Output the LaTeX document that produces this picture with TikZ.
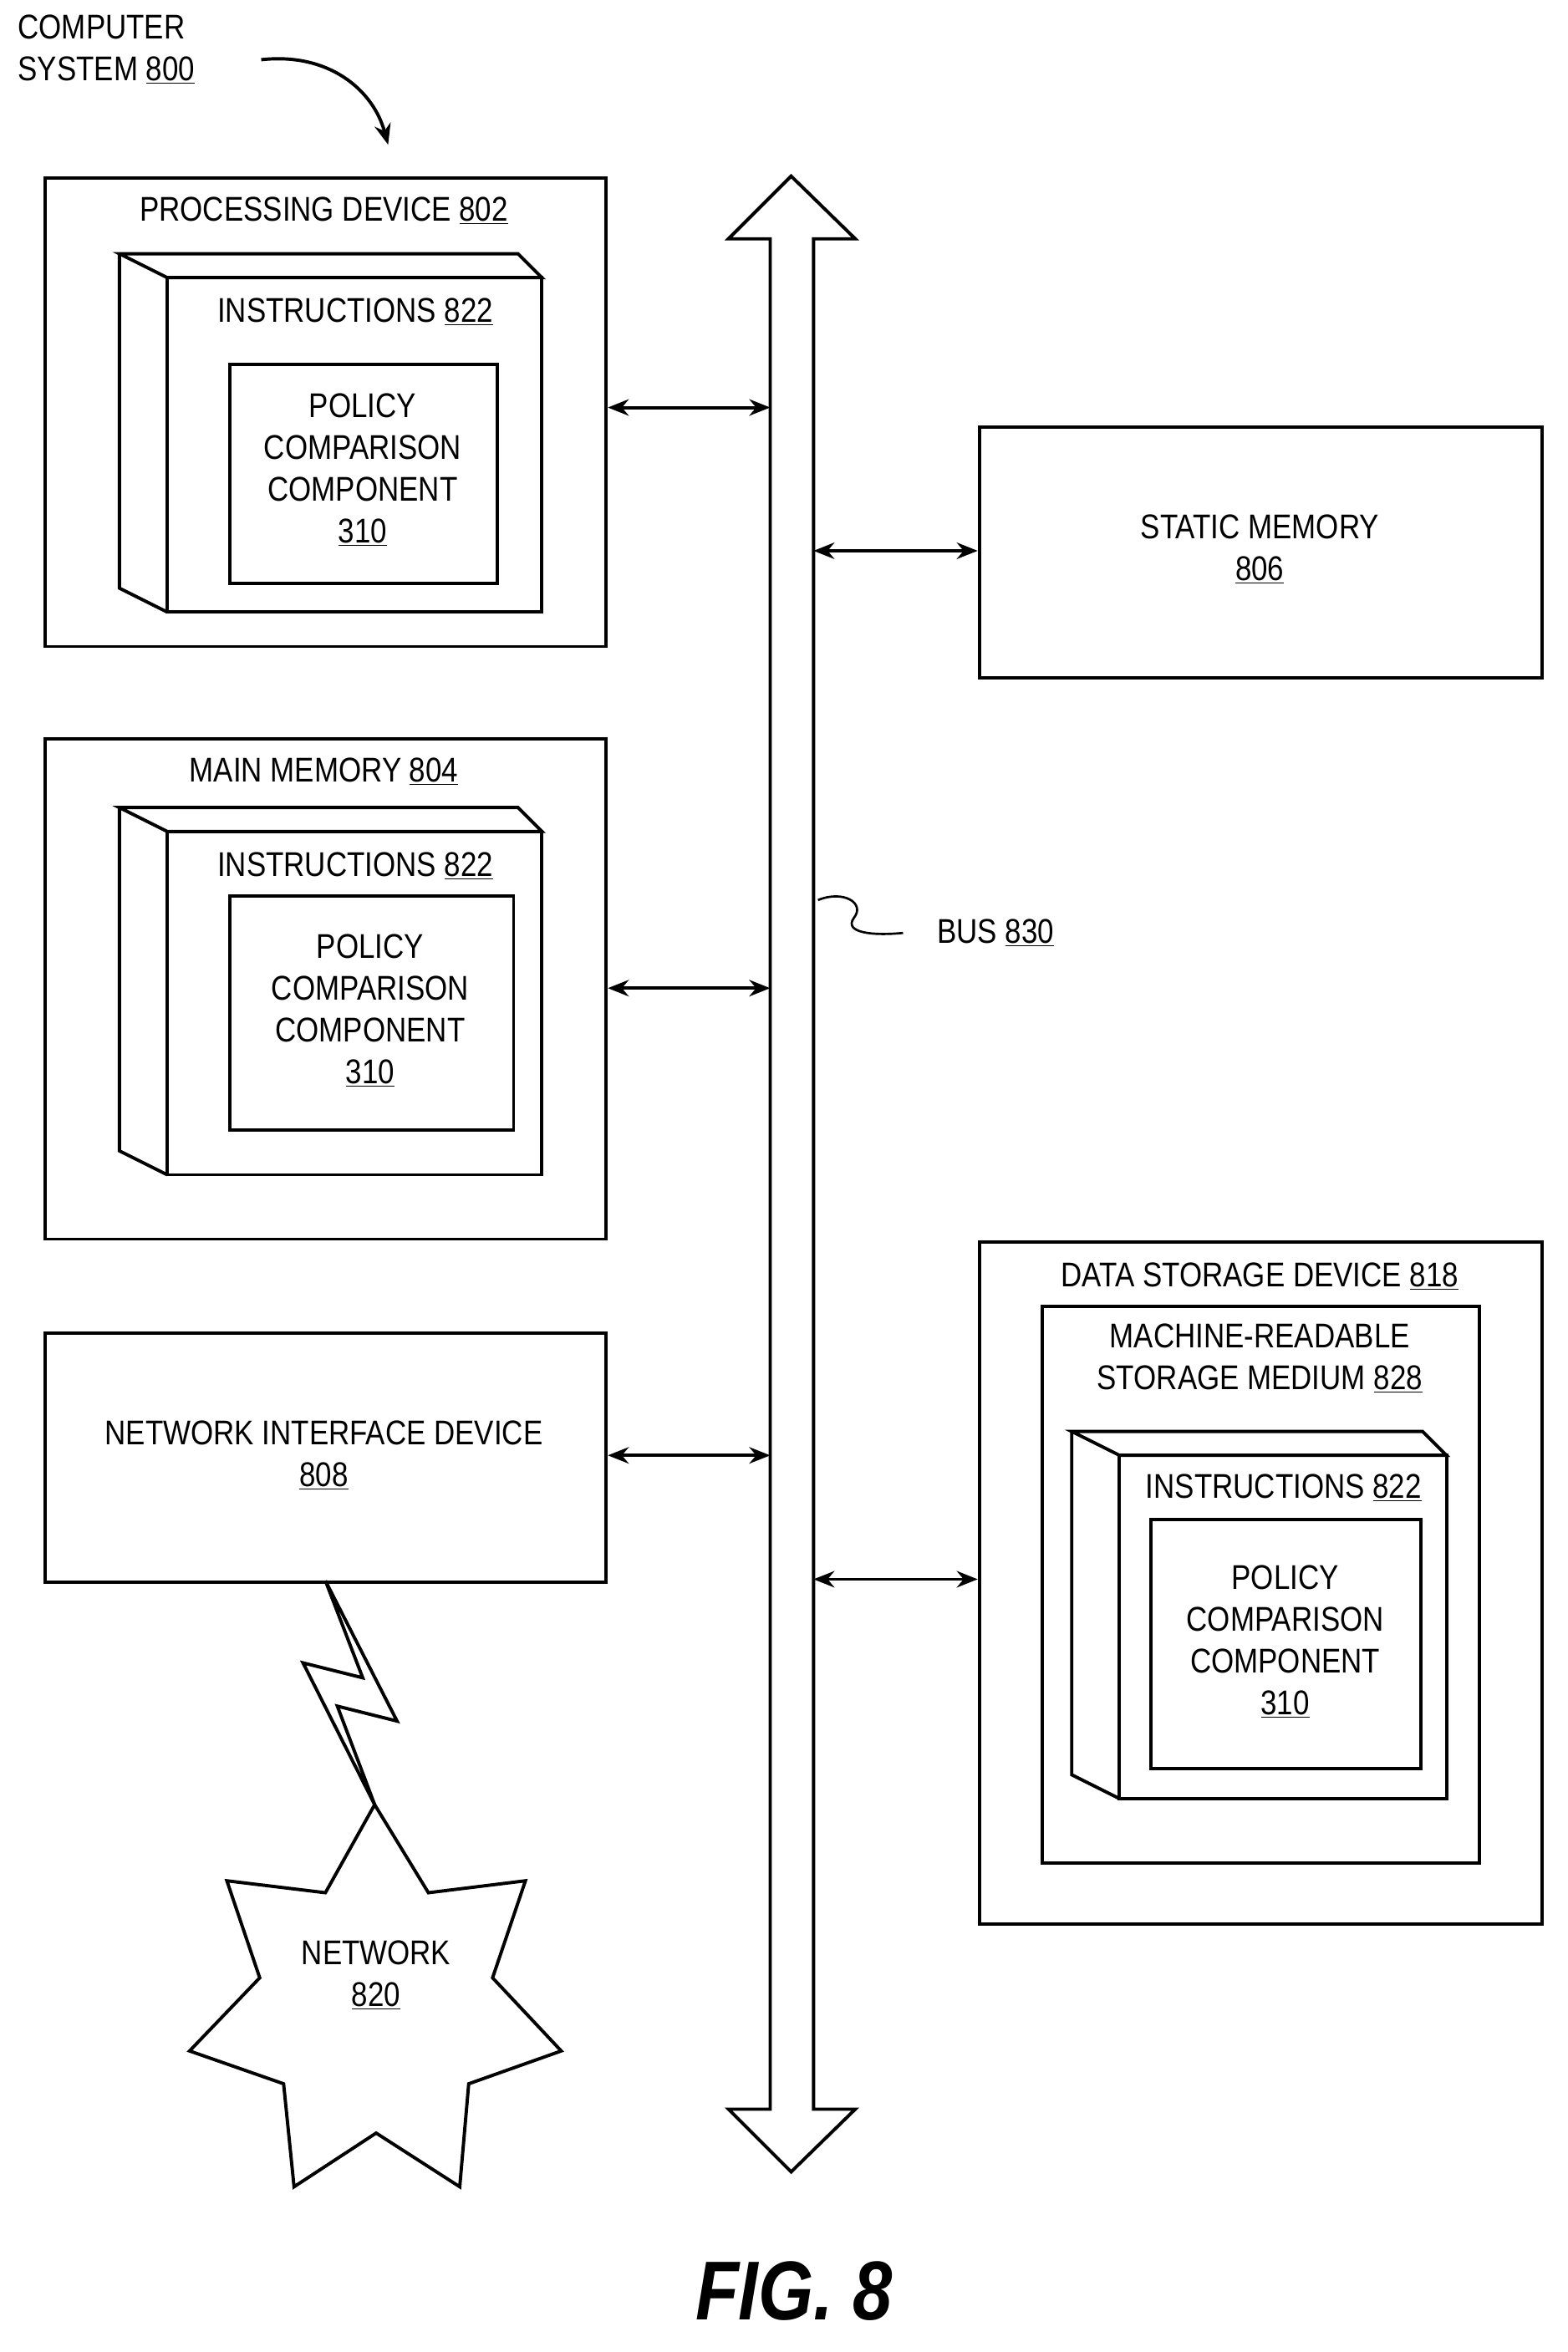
\documentclass[tikz,border=0pt]{standalone}
\usepackage{fontspec}
\setmainfont{Liberation Sans}[FakeStretch=0.85]
\usetikzlibrary{arrows.meta}
\begin{document}
\begin{tikzpicture}[x=1pt,y=-1pt,line width=2.2pt,
  txt/.style={font=\fontsize{23}{28}\selectfont,align=center,inner sep=0pt},
  box/.style={draw,line width=2.2pt},
  arr/.style={{Stealth[length=14pt,width=11pt]}-{Stealth[length=14pt,width=11pt]},line width=2.2pt}]
\useasboundingbox (0,0) rectangle (1050,1575.7);
\newcommand{\cube}[5]{% front x1,y1,x2,y2, depth
  \draw[line width=2.2pt,line join=miter] (#1-#5*2,#2-#5) -- (#3-#5,#2-#5) -- (#3,#2) -- (#1,#2) -- cycle;
  \draw[line width=2.2pt] (#1-#5*2,#2-#5) -- (#1-#5*2,#4-#5) -- (#1,#4);
  \draw[line width=2.2pt] (#1,#2) rectangle (#3,#4);}
% computer system label
\node[txt,align=left,anchor=north west] (cs) at (11,9) {COMPUTER\\SYSTEM \underline{800}};
\coordinate (csa) at (175,40);
\coordinate (csb) at (260,97);
\draw[-{Stealth[length=14pt,width=11pt]}] (csa) .. controls (220,35) and (250,60) .. (csb);
% bus
\draw[line width=2.2pt,line join=miter] (516,1413) -- (516,160) -- (488,160) -- (530,118) -- (573,160) -- (545,160) -- (545,1413) -- (573,1413) -- (530,1455) -- (488,1413) -- cycle;
\coordinate (busL1) at (516,273); \coordinate (busL2) at (516,662); \coordinate (busL3) at (516,975);
\coordinate (busR1) at (545,369); \coordinate (busR2) at (545,1058);
% processing device
\node[box,minimum width=376,minimum height=314,anchor=north west] (pd) at (29,118) {};
\node[txt] (pdt) at (217,141) {PROCESSING DEVICE \underline{802}};
\cube{112}{186}{363}{410}{16}
\node[txt] (i1) at (238,209) {INSTRUCTIONS \underline{822}};
\node[box,minimum width=179,minimum height=147,anchor=north west] (p1) at (153,243) {};
\node[txt] at (243,315) {POLICY\\[0pt]COMPARISON\\COMPONENT\\\underline{310}};
\draw[arr] (pd.east|-busL1) -- (busL1);
% static memory
\node[box,minimum width=377,minimum height=168,anchor=north west] (sm) at (655,285) {};
\node[txt] at (844,368) {STATIC MEMORY\\\underline{806}};
\draw[arr] (busR1) -- (sm.west|-busR1);
% main memory
\node[box,minimum width=376,minimum height=335,anchor=north west] (mm) at (29,494) {};
\node[txt] at (217,517) {MAIN MEMORY \underline{804}};
\cube{112}{557}{363}{787}{16}
\node[txt] at (238,580) {INSTRUCTIONS \underline{822}};
\node[box,minimum width=190,minimum height=157,anchor=north west] (p2) at (153,599) {};
\node[txt] at (248,677) {POLICY\\COMPARISON\\COMPONENT\\\underline{310}};
\draw[arr] (mm.east|-busL2) -- (busL2);
% network interface
\node[box,minimum width=376,minimum height=167,anchor=north west] (ni) at (29,892) {};
\node[txt] at (217,975) {NETWORK INTERFACE DEVICE\\\underline{808}};
\draw[arr] (ni.east|-busL3) -- (busL3);
% lightning and network
\draw[line join=miter] (218,1059) -- (243,1124) -- (203,1114) -- (251,1209) -- (226,1143) -- (266,1153) -- cycle;
\draw[line join=miter] (251,1209) -- (287,1268) -- (352,1260) -- (330,1325) -- (376,1374) -- (314,1396) -- (308,1465) -- (252,1429) -- (197,1465) -- (190,1396) -- (127,1374) -- (174,1325) -- (152,1260) -- (218,1268) -- cycle;
\node[txt] (net) at (252,1323) {NETWORK\\\underline{820}};
% bus label
\draw[line width=1.5pt] (548,603) .. controls (565,596) and (580,605) .. (572,615) .. controls (565,625) and (585,627) .. (605,625);
\node[txt] (bus) at (667,625) {BUS \underline{830}};
% data storage
\node[box,minimum width=377,minimum height=457,anchor=north west] (ds) at (655,831) {};
\node[txt] at (844,855) {DATA STORAGE DEVICE \underline{818}};
\node[box,minimum width=293,minimum height=373,anchor=north west] (mr) at (697,874) {};
\node[txt] at (844,910) {MACHINE-READABLE\\STORAGE MEDIUM \underline{828}};
\cube{750}{975}{969}{1205}{16}
\node[txt] at (860,997) {INSTRUCTIONS \underline{822}};
\node[box,minimum width=181,minimum height=167,anchor=north west] (p3) at (770,1017) {};
\node[txt] at (861,1100) {POLICY\\COMPARISON\\COMPONENT\\\underline{310}};
\draw[arr] (busR2) -- (ds.west|-busR2);
% fig
\node[font=\fontsize{56}{60}\selectfont\bfseries\itshape] at (532,1535) {FIG. 8};
\end{tikzpicture}
\end{document}
